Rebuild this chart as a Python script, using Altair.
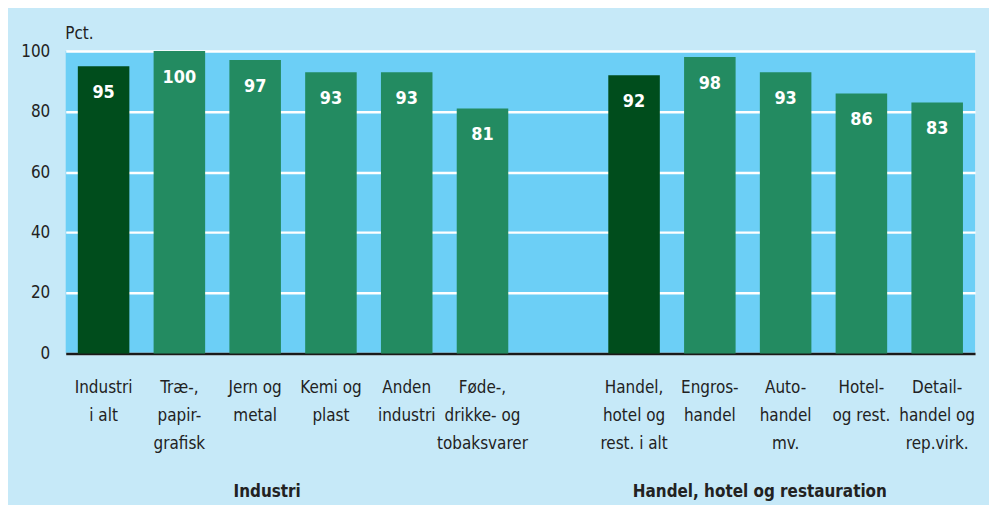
import altair as alt
import pandas as pd

categories = ["Industri|i alt", "Træ-,|papir-|grafisk", "Jern og|metal", "Kemi og|plast",
              "Anden|industri", "Føde-,|drikke- og|tobaksvarer", " ",
              "Handel,|hotel og|rest. i alt", "Engros-|handel", "Auto-|handel|mv.",
              "Hotel-|og rest.", "Detail-|handel og|rep.virk."]
values = [95, 100, 97, 93, 93, 81, None, 92, 98, 93, 86, 83]
kinds = ["total", "sub", "sub", "sub", "sub", "sub", "none", "total", "sub", "sub", "sub", "sub"]
group_titles = ["Industri", "Handel, hotel og restauration"]
group_anchor = ["Jern og|metal", "Auto-|handel|mv."]
group_offset = [38, 0]

df = pd.DataFrame({"cat": categories, "val": values, "kind": kinds})
bars_df = df[df["val"].notna()]
gdf = pd.DataFrame({"cat": group_anchor, "title": group_titles, "off": group_offset})

FONT = "DejaVu Sans Condensed, Open Sans, sans-serif"

x = alt.X("cat:N", sort=categories, title=None,
          scale=alt.Scale(domain=categories, paddingInner=0.32, paddingOuter=0.16),
          axis=alt.Axis(labelExpr="split(datum.label, '|')", labelAngle=0, ticks=False,
                        domainColor="#1a1a1a", domainWidth=2.5, labelPadding=26,
                        labelFontSize=17, labelLineHeight=28, labelColor="#222222",
                        labelFont=FONT, labelLimit=0, grid=False))

y = alt.Y("val:Q", title="Pct.",
          scale=alt.Scale(domain=[0, 100], nice=False),
          axis=alt.Axis(values=[0, 20, 40, 60, 80, 100], ticks=False, domain=False,
                        gridColor="white", gridWidth=2.5, labelPadding=16,
                        labelFontSize=17, labelColor="#222222", labelFont=FONT,
                        titleAngle=0, titleX=-1, titleY=-13, titleAlign="left",
                        titleBaseline="alphabetic", titleFontWeight="normal",
                        titleFontSize=17, titleColor="#222222", titleFont=FONT))

bars = alt.Chart(bars_df).mark_bar().encode(
    x=x, y=y,
    color=alt.Color("kind:N", scale=alt.Scale(domain=["total", "sub"],
                                              range=["#004d1c", "#238b61"]), legend=None),
)

labels = alt.Chart(bars_df).mark_text(color="white", fontWeight="bold", fontSize=18,
                                      font=FONT, baseline="middle", dy=27).encode(
    x=alt.X("cat:N", sort=categories), y=alt.Y("val:Q"), text=alt.Text("val:Q"))

titles = alt.Chart(gdf).mark_text(fontWeight="bold", fontSize=17, font=FONT,
                                  color="#222222", baseline="middle").encode(
    x=alt.X("cat:N", sort=categories), xOffset=alt.XOffset("off:Q", scale=None),
    y=alt.value(443), text="title:N")

chart = alt.layer(bars, labels, titles).properties(
    width=914, height=304,
    padding={"left": 58, "top": 42, "right": 14, "bottom": 151},
    autosize=alt.AutoSizeParams(type="none"),
    background="#c6e9f8",
).configure_view(fill="#6ccff6", stroke=None)

chart.save("out.html", embed_options={"renderer": "svg", "actions": False})
